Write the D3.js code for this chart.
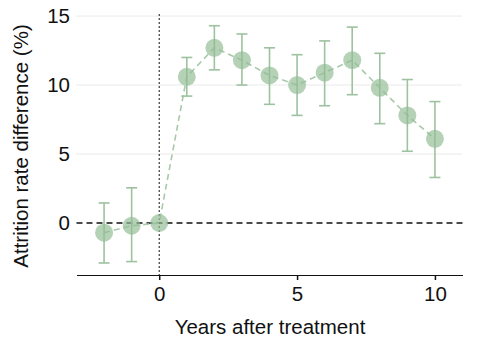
<!DOCTYPE html>
<html><head><meta charset="utf-8">
<script src="https://cdn.jsdelivr.net/npm/d3@7"></script>
<style>body{margin:0;background:#fff}svg{display:block}text{font-family:"Liberation Sans",Arial,Helvetica,sans-serif}</style>
</head><body>
<svg id="c" width="482" height="350"></svg>
<script>
const years = [-2,-1,0,1,2,3,4,5,6,7,8,9,10];
const estimates = [-0.7,-0.2,0,10.6,12.7,11.8,10.7,10.0,10.9,11.8,9.8,7.8,6.1];
const ciLow = [-2.9,-2.8,0,9.2,11.1,10.0,8.6,7.8,8.5,9.3,7.2,5.2,3.3];
const ciHigh = [1.45,2.55,0,12.0,14.3,13.7,12.7,12.2,13.2,14.2,12.3,10.4,8.8];
const xTicks = [0,5,10];
const yTicks = [0,5,10,15];

const svg = d3.select("#c");
const x = d3.scaleLinear().domain([-3,11]).range([76.5,462.5]);
const y = d3.scaleLinear().domain([-3.77,15.15]).range([275,14]);
const green = "#9dc29f";
const fs = 20.5;

// gridlines
svg.append("g").selectAll("line").data(yTicks.filter(d=>d!==0)).join("line")
  .attr("x1",x(-3)).attr("x2",x(11)).attr("y1",d=>y(d)).attr("y2",d=>y(d))
  .attr("stroke","#d4d4d4").attr("stroke-width",1).attr("stroke-dasharray","1,1");

// y tick labels
svg.append("g").selectAll("text").data(yTicks).join("text")
  .attr("x",70).attr("y",d=>y(d)).attr("dy","0.36em").attr("text-anchor","end")
  .attr("font-size",fs).attr("fill","#111").text(d=>d);

// zero line
svg.append("line").attr("x1",x(-3)).attr("x2",x(11)).attr("y1",y(0)).attr("y2",y(0))
  .attr("stroke","#111").attr("stroke-width",1.6).attr("stroke-dasharray","6,4");
// vertical line at 0
svg.append("line").attr("x1",x(0)).attr("x2",x(0)).attr("y1",y(15.15)).attr("y2",y(-3.77))
  .attr("stroke","#111").attr("stroke-width",1).attr("stroke-dasharray","2,2");

// x axis
const xAxis = d3.axisBottom(x).tickValues(xTicks).tickSize(5).tickPadding(6).tickSizeOuter(0);
const gx = svg.append("g").attr("transform","translate(0,275)").call(xAxis);
gx.select(".domain").attr("stroke","#111").attr("stroke-width",1.2);
gx.selectAll(".tick line").attr("stroke","#111").attr("stroke-width",1.5);
gx.selectAll(".tick text").attr("font-size",fs).attr("fill","#111")
  .attr("font-family","'Liberation Sans',Arial,sans-serif");

const data = years.map((d,i)=>({x:d,e:estimates[i],lo:ciLow[i],hi:ciHigh[i]}));

// connecting line
svg.append("path").datum(data)
  .attr("d",d3.line().x(d=>x(d.x)).y(d=>y(d.e)))
  .attr("fill","none").attr("stroke","#a8c9aa").attr("stroke-width",1.6).attr("stroke-dasharray","6,4");

// error bars
const eb = svg.append("g").attr("stroke",green).attr("stroke-width",1.6);
data.filter(d=>d.hi!==d.lo).forEach(d=>{
  eb.append("line").attr("x1",x(d.x)).attr("x2",x(d.x)).attr("y1",y(d.lo)).attr("y2",y(d.hi));
  eb.append("line").attr("x1",x(d.x)-5.5).attr("x2",x(d.x)+5.5).attr("y1",y(d.lo)).attr("y2",y(d.lo));
  eb.append("line").attr("x1",x(d.x)-5.5).attr("x2",x(d.x)+5.5).attr("y1",y(d.hi)).attr("y2",y(d.hi));
});

// points
svg.append("g").selectAll("circle").data(data).join("circle")
  .attr("cx",d=>x(d.x)).attr("cy",d=>y(d.e)).attr("r",9)
  .attr("fill","#92bd95").attr("fill-opacity",0.68);

// titles
svg.append("text").attr("x",270).attr("y",334).attr("text-anchor","middle")
  .attr("font-size",fs).attr("fill","#111").text("Years after treatment");
svg.append("text").attr("transform","translate(28,146) rotate(-90)").attr("text-anchor","middle")
  .attr("font-size",fs).attr("fill","#111").text("Attrition rate difference (%)");
</script>
</body></html>
